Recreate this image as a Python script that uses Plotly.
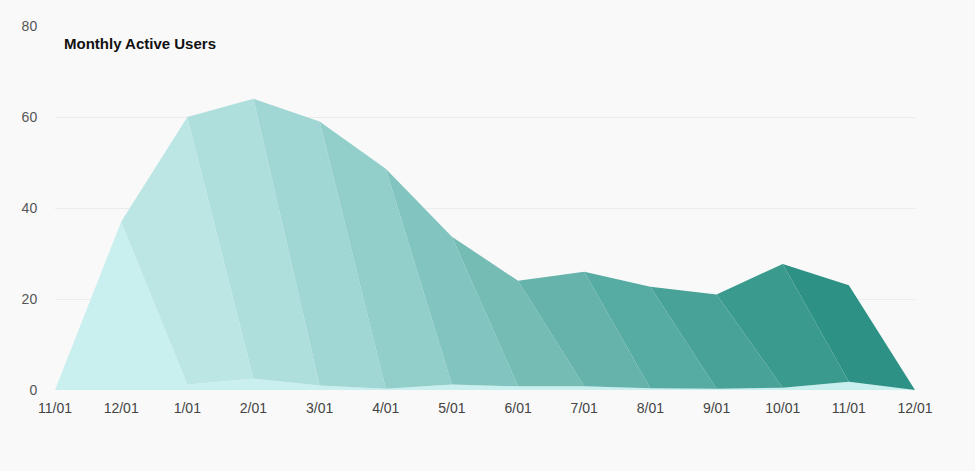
import plotly.graph_objects as go

# === DATA ===
month_labels = ['11/01', '12/01', '1/01', '2/01', '3/01', '4/01', '5/01',
                '6/01', '7/01', '8/01', '9/01', '10/01', '11/01', '12/01']
# total monthly active users per month (top of the stack)
mau_totals = [0, 37, 60, 64, 59, 48.6, 33.7, 24, 26, 22.7, 21, 27.7, 23, 0]
# users of the first cohort still active in later months (thin band at the bottom)
first_cohort_carryover = [0, 0, 1.2, 2.5, 1.0, 0.3, 1.2, 0.8, 0.8, 0.4, 0.3, 0.5, 1.8, 0]
# one cohort per signup month, lightest -> darkest
cohort_labels = ['12/01', '1/01', '2/01', '3/01', '4/01', '5/01',
                 '6/01', '7/01', '8/01', '9/01', '10/01', '11/01']
cohort_colors = ['#c9efee', '#bce6e4', '#aedfdc', '#a0d6d3', '#92cfca', '#82c4bf',
                 '#74bcb4', '#65b3ab', '#56aca2', '#48a297', '#3a9a8e', '#2d9285']

x_idx = list(range(len(month_labels)))

fig = go.Figure()

for k, (name, color) in enumerate(zip(cohort_labels, cohort_colors)):
    m = k + 1  # month index where this cohort signs up
    if k == 0:
        y = list(first_cohort_carryover)
        y[m] = mau_totals[m]
    else:
        y = [0] * len(month_labels)
        y[m] = mau_totals[m] - first_cohort_carryover[m]
    fig.add_trace(go.Scatter(
        x=x_idx, y=y, name=name,
        mode='lines', stackgroup='mau',
        line=dict(width=0, color=color),
        fillcolor=color,
        hoverinfo='skip',
    ))

fig.add_annotation(
    text='<b>Monthly Active Users</b>',
    xref='paper', yref='paper', x=0.008, y=0.953,
    xanchor='left', yanchor='middle', showarrow=False,
    font=dict(family='Liberation Sans, Arial', size=15, color='#111111'),
)

fig.update_layout(
    width=975, height=471,
    margin=dict(l=55, r=60, t=26, b=81),
    paper_bgcolor='#f9f9f9', plot_bgcolor='#f9f9f9',
    showlegend=False,
    font=dict(family='Liberation Sans, Arial', size=14, color='#444444'),
)
fig.update_xaxes(
    tickvals=x_idx, ticktext=month_labels,
    range=[0, len(month_labels) - 1],
    showgrid=False, zeroline=False, showline=False,
    ticks='outside', ticklen=5, tickcolor='rgba(0,0,0,0)',
)
fig.update_yaxes(
    range=[0, 80], dtick=20,
    showgrid=True, gridcolor='#ececec', gridwidth=1,
    zeroline=False, showline=False,
    ticks='outside', ticklen=14, tickcolor='rgba(0,0,0,0)',
    tickfont=dict(color='#555555'),
)

# page body has a default margin; drop it so the figure fills the window
fig.write_html("out.html", config={'displayModeBar': False},
               post_script="document.body.style.margin='0';")
